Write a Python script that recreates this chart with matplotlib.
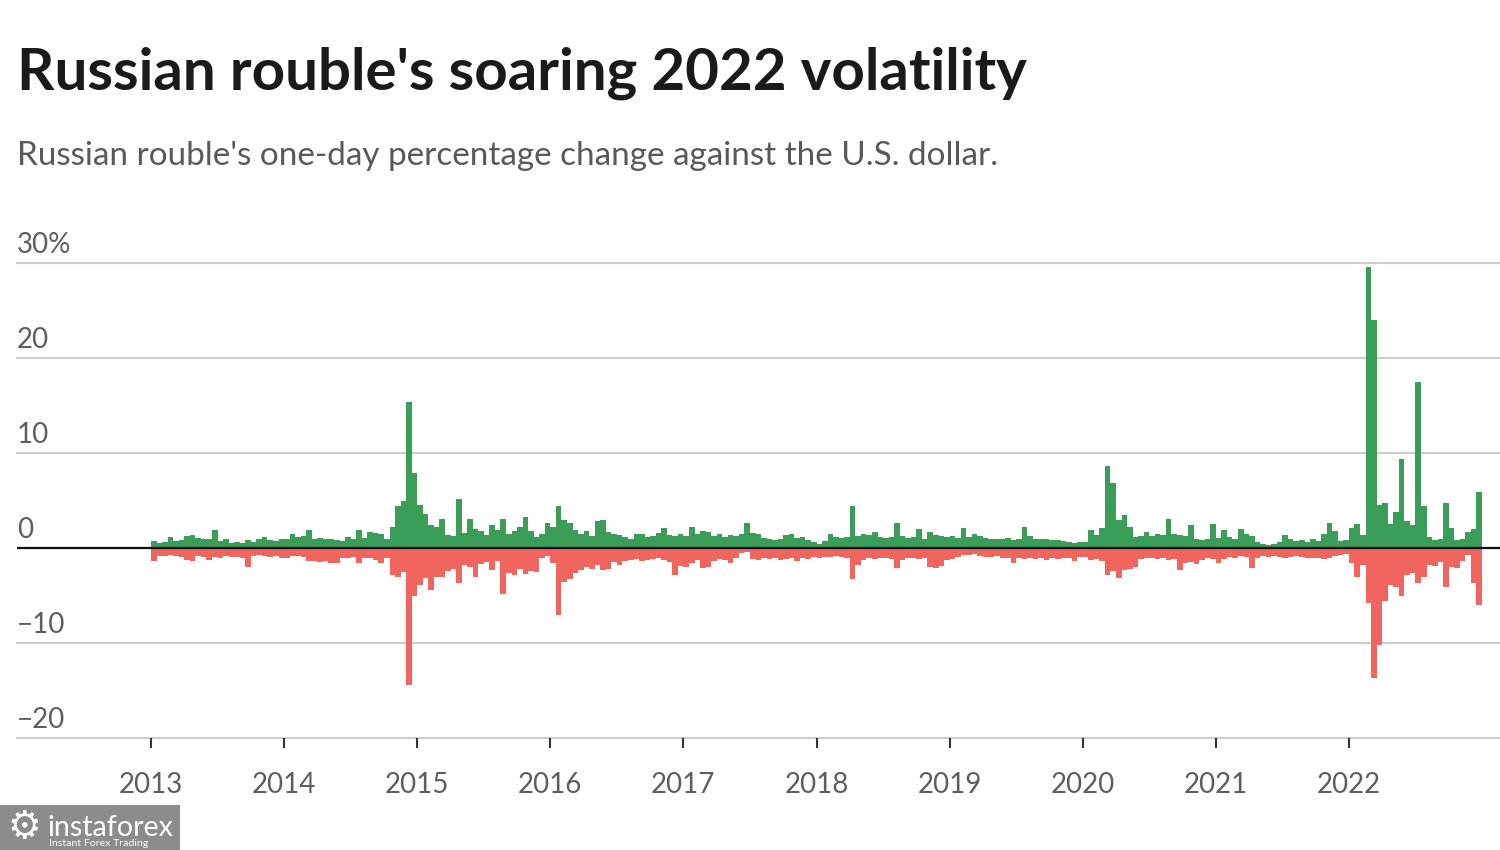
import matplotlib
matplotlib.use("Agg")
import matplotlib.pyplot as plt
import matplotlib.transforms as mtransforms
from matplotlib.patches import Rectangle
import numpy as np

# ---- data: half-month max up / max down one-day % change ----
years = list(range(2013, 2023))
bins_per_year = 24

up_2013 = [0.7, 0.5, 0.6, 1.2, 0.7, 0.8, 1.3, 1.4, 1.1, 0.9, 1.0, 1.9, 0.7, 0.9, 0.5, 0.6, 0.5, 0.8, 0.6, 0.9, 1.2, 0.8, 0.7, 0.9]
down_2013 = [-1.4, -0.8, -0.8, -0.7, -0.8, -0.9, -1.3, -1.4, -0.8, -0.9, -1.3, -0.9, -1.1, -0.8, -0.9, -0.9, -1.0, -2.0, -0.8, -0.7, -0.8, -0.9, -0.8, -1.1]
up_2014 = [0.9, 1.5, 1.2, 1.3, 1.9, 1.0, 1.1, 1.0, 0.9, 0.8, 0.7, 1.2, 1.0, 1.9, 1.1, 1.7, 1.6, 1.5, 0.9, 2.2, 4.4, 4.9, 15.4, 7.9]
down_2014 = [-1.1, -0.8, -0.8, -0.9, -1.4, -1.4, -1.5, -1.4, -1.6, -1.6, -1.0, -1.1, -0.9, -1.6, -1.0, -1.1, -1.3, -1.6, -1.0, -2.8, -3.0, -2.5, -14.4, -5.1]
up_2015 = [4.5, 3.6, 2.4, 2.2, 3.1, 1.4, 1.3, 5.2, 1.6, 3.1, 2.0, 1.8, 1.4, 2.4, 1.9, 3.1, 1.5, 1.8, 2.2, 3.3, 1.8, 1.2, 1.5, 2.6]
down_2015 = [-3.9, -3.2, -4.4, -3.0, -3.0, -2.4, -2.2, -3.7, -1.8, -2.0, -3.0, -1.7, -1.5, -2.3, -1.4, -4.8, -2.6, -2.8, -2.2, -2.7, -2.4, -2.5, -1.0, -0.8]
up_2016 = [2.2, 4.4, 2.9, 2.6, 1.9, 1.5, 1.8, 1.3, 2.8, 2.9, 1.7, 1.5, 1.4, 1.2, 1.0, 1.5, 1.5, 1.2, 1.3, 1.6, 2.1, 1.4, 1.3, 1.5]
down_2016 = [-1.6, -7.0, -3.6, -3.3, -2.6, -2.3, -2.0, -2.2, -1.8, -2.3, -2.2, -1.5, -1.8, -1.4, -1.3, -1.2, -1.4, -1.3, -1.2, -1.0, -1.3, -1.5, -2.8, -1.9]
up_2017 = [1.3, 2.2, 1.5, 1.8, 1.7, 1.3, 1.5, 1.2, 1.4, 1.3, 1.5, 2.6, 1.6, 1.5, 1.1, 0.9, 0.8, 1.0, 1.4, 1.5, 1.1, 1.2, 0.8, 0.6]
down_2017 = [-2.0, -1.6, -1.3, -2.1, -2.0, -1.4, -1.2, -1.3, -1.6, -1.1, -0.5, -0.4, -1.2, -1.3, -1.1, -1.2, -1.0, -1.3, -1.2, -1.1, -1.4, -1.0, -1.2, -0.9]
up_2018 = [0.4, 0.7, 1.5, 1.2, 1.1, 1.2, 4.4, 1.3, 1.5, 1.4, 1.7, 1.2, 1.1, 1.2, 2.6, 1.3, 1.1, 1.2, 2.0, 1.0, 1.7, 1.4, 1.3, 1.2]
down_2018 = [-1.0, -0.9, -0.9, -0.8, -0.9, -1.0, -3.3, -1.8, -1.3, -1.1, -1.2, -1.0, -1.1, -1.2, -2.1, -1.3, -1.1, -1.0, -1.2, -1.1, -2.0, -2.1, -1.9, -1.3]
up_2019 = [1.3, 1.1, 2.1, 1.2, 1.5, 1.3, 1.1, 1.0, 1.0, 0.9, 1.1, 0.8, 1.0, 2.2, 1.3, 1.0, 0.9, 0.9, 0.8, 0.8, 0.7, 0.6, 0.5, 0.6]
down_2019 = [-1.2, -0.9, -0.7, -0.7, -0.6, -0.8, -0.9, -0.9, -0.8, -1.0, -1.1, -1.6, -1.0, -1.2, -1.1, -1.2, -1.0, -1.3, -1.1, -1.2, -1.0, -1.1, -1.4, -0.9]
up_2020 = [0.6, 1.9, 1.4, 2.1, 8.6, 6.8, 2.9, 3.5, 2.2, 1.2, 1.3, 1.7, 1.3, 1.5, 1.4, 3.1, 1.5, 1.4, 1.3, 2.4, 1.0, 0.8, 0.9, 2.5]
down_2020 = [-0.9, -1.3, -1.2, -1.4, -2.8, -2.4, -3.2, -2.3, -2.2, -2.0, -1.2, -1.1, -1.0, -1.2, -1.1, -1.3, -1.2, -2.3, -1.6, -1.5, -1.7, -1.3, -1.1, -1.2]
up_2021 = [1.1, 1.9, 1.2, 1.0, 2.0, 1.5, 1.3, 0.6, 0.4, 0.3, 0.4, 0.6, 1.4, 0.9, 0.7, 0.8, 0.6, 1.0, 0.7, 1.5, 2.6, 1.8, 0.7, 0.8]
down_2021 = [-1.6, -1.2, -0.9, -1.0, -0.8, -0.9, -2.1, -1.0, -0.8, -0.9, -0.8, -0.9, -1.0, -0.9, -0.8, -0.9, -1.0, -1.1, -1.0, -1.2, -1.1, -0.8, -0.7, -0.6]
up_2022 = [2.1, 2.5, 1.4, 29.6, 24.0, 4.5, 4.7, 2.5, 3.8, 9.4, 2.8, 2.4, 17.5, 4.4, 1.2, 0.8, 0.9, 4.7, 2.1, 0.8, 0.9, 1.7, 2.0, 5.9]
down_2022 = [-1.6, -3.0, -1.8, -5.8, -13.7, -10.2, -5.6, -3.9, -4.1, -5.1, -2.8, -2.6, -3.7, -3.0, -1.8, -1.9, -1.5, -4.1, -2.0, -2.1, -1.4, -0.7, -3.7, -6.0]

up_by_year = [up_2013, up_2014, up_2015, up_2016, up_2017, up_2018, up_2019, up_2020, up_2021, up_2022]
down_by_year = [down_2013, down_2014, down_2015, down_2016, down_2017, down_2018, down_2019, down_2020, down_2021, down_2022]

y_ticks = [-20, -10, 0, 10, 20, 30]
y_tick_labels = ["\u221220", "\u221210", "0", "10", "20", "30%"]
x_ticks = years
x_tick_labels = [str(y) for y in years]

title = "Russian rouble's soaring 2022 volatility"
subtitle = "Russian rouble's one-day percentage change against the U.S. dollar."

GREEN = "#3a9e58"
RED = "#f0665e"
GRID = "#cccccc"
LABEL = "#5e5e5e"
FAM = ["Lato", "DejaVu Sans"]

# ---- build x positions ----
x_pos, up_vals, down_vals = [], [], []
for yr, u, d in zip(years, up_by_year, down_by_year):
    for i in range(bins_per_year):
        x_pos.append(yr + i / bins_per_year)
        up_vals.append(u[i])
        down_vals.append(d[i])

W, H = 1500, 850
fig = plt.figure(figsize=(W / 100, H / 100), dpi=100)
fig.patch.set_facecolor("white")
ax = fig.add_axes([17 / W, 112 / H, 1483 / W, 475 / H])
ax.set_xlim(2011.993, 2023.135)
ax.set_ylim(-20, 30)

ax.bar(x_pos, up_vals, width=1 / bins_per_year, align="edge", color=GREEN,
       linewidth=0, zorder=2, clip_on=False)
ax.bar(x_pos, down_vals, width=1 / bins_per_year, align="edge", color=RED,
       linewidth=0, zorder=2, clip_on=False)

for v in y_ticks:
    if v != 0:
        ax.axhline(v, color=GRID, lw=1.5, zorder=1, clip_on=False)
ax.axhline(0, color="#111111", lw=1.6, zorder=3)

for s in ax.spines.values():
    s.set_visible(False)
ax.set_yticks([])
ax.set_xticks(x_ticks)
ax.set_xticklabels(x_tick_labels, fontsize=20, color=LABEL, family=FAM)
ax.tick_params(axis="x", direction="out", length=7.5, width=1.5, color="#333333", pad=17)

off = mtransforms.offset_copy(ax.transData, fig=fig, x=0, y=10, units="dots")
for v, lab in zip(y_ticks, y_tick_labels):
    ax.text(2011.993, v, lab, transform=off, fontsize=20, color=LABEL,
            family=FAM, ha="left", va="baseline")

t1 = fig.text(17 / W, 1 - 90 / H, title, fontsize=38, fontweight="bold",
              color="#1a1a1a", family=FAM, ha="left", va="baseline")
t2 = fig.text(17 / W, 1 - 165 / H, subtitle, fontsize=22,
              color="#595959", family=FAM, ha="left", va="baseline")

# logo box
fig.patches.append(Rectangle((0, 0), 180 / W, 45 / H, transform=fig.transFigure,
                             facecolor="#8c8c8c", edgecolor="none", zorder=0))
fig.text(24 / W, 1 - 828 / H, "\u2699", fontsize=27, color="white",
         family=["DejaVu Sans"], ha="center", va="center")
t3 = fig.text(47 / W, 1 - 836 / H, "instaforex", fontsize=20, color="white",
              family=FAM, ha="left", va="baseline")
t4 = fig.text(49 / W, 1 - 846 / H, "Instant Forex Trading", fontsize=8, color="white",
              family=FAM, ha="left", va="baseline")

renderer = fig.canvas.get_renderer()
def fit(t, target_px):
    bb = t.get_window_extent(renderer)
    t.set_fontsize(t.get_fontsize() * target_px / bb.width)
fit(t1, 1010)
fit(t2, 979)
fit(t3, 126)
fit(t4, 99)

fig.savefig("out.png", dpi=100)
